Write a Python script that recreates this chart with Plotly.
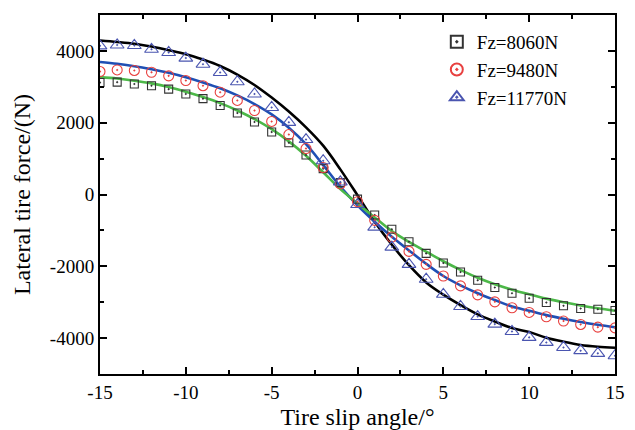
import plotly.graph_objects as go

# slip angle (deg) for the measured points and fitted curves
slip = list(range(-15, 16))

# measured lateral force (N)
fy_8060 = [3120, 3130, 3080, 3030, 2935, 2800, 2670, 2480, 2270, 2020, 1740, 1440, 1100, 720, 330,
           -130, -570, -970, -1315, -1640, -1910, -2160, -2390, -2590, -2750, -2890, -3010, -3100,
           -3175, -3195, -3230]
fy_9480 = [3425, 3470, 3455, 3405, 3305, 3175, 3030, 2850, 2620, 2340, 2035, 1670, 1280, 750, 300,
           -200, -720, -1185, -1585, -1945, -2270, -2545, -2795, -2990, -3155, -3285, -3405, -3525,
           -3620, -3695, -3715]
fy_11770 = [4140, 4165, 4150, 4045, 3955, 3800, 3630, 3400, 3140, 2800, 2425, 2010, 1530, 940, 350,
            -280, -910, -1465, -1945, -2360, -2780, -3120, -3400, -3610, -3815, -3980, -4120, -4260,
            -4350, -4425, -4490]

# fitted curves (N)
fit_8060 = [3270, 3230, 3170, 3095, 2995, 2865, 2715, 2545, 2340, 2100, 1820, 1480, 1080, 620, 150,
            -250, -640, -1020, -1320, -1590, -1860, -2100, -2320, -2500, -2650, -2780, -2900, -3000,
            -3090, -3170, -3240]
fit_9480 = [3690, 3640, 3575, 3490, 3390, 3265, 3120, 2960, 2760, 2520, 2230, 1860, 1400, 820, 220,
            -300, -760, -1180, -1560, -1930, -2270, -2530, -2750, -2940, -3120, -3240, -3360, -3460,
            -3550, -3630, -3700]
fit_11770 = [4290, 4250, 4200, 4120, 4020, 3910, 3760, 3580, 3340, 3050, 2700, 2310, 1870, 1360, 700,
             -20, -760, -1400, -1970, -2450, -2790, -3080, -3340, -3540, -3720, -3830, -3990, -4100,
             -4190, -4240, -4270]

x_ticks = [-15, -10, -5, 0, 5, 10, 15]
x_ticktext = ["-15", "-10", "-5", "0", "5", "10", "15"]
y_ticks = [-4000, -2000, 0, 2000, 4000]
y_ticktext = ["-4000", "-2000", "0", "2000", "4000"]

FONT = "Liberation Serif"

fig = go.Figure()

# fitted lines
for fit, color in [(fit_11770, "#000000"), (fit_9480, "#1f4fb4"), (fit_8060, "#4cb848")]:
    fig.add_trace(go.Scatter(x=slip, y=fit, mode="lines", line=dict(color=color, width=2.6, shape="spline"),
                             showlegend=False, hoverinfo="skip"))

# measured points
fig.add_trace(go.Scatter(x=slip, y=fy_8060, mode="markers", name="Fz=8060N",
                         marker=dict(symbol="square-open-dot", size=8, color="#333333", line=dict(width=1.1))))
fig.add_trace(go.Scatter(x=slip, y=fy_9480, mode="markers", name="Fz=9480N",
                         marker=dict(symbol="circle-open-dot", size=10, color="#e8403f", line=dict(width=1.1))))
fig.add_trace(go.Scatter(x=slip, y=fy_11770, mode="markers", name="Fz=11770N",
                         marker=dict(symbol="triangle-up-open-dot", size=12, color="#4a55b0", line=dict(width=1.1))))

axis_common = dict(
    showline=True, linecolor="black", linewidth=2, mirror="ticks",
    ticks="inside", ticklen=7, tickwidth=2, tickcolor="black",
    showgrid=False, zeroline=False, automargin=False,
    tickfont=dict(family=FONT, size=19, color="black"),
)

fig.update_xaxes(
    range=[-15, 15], tickmode="array", tickvals=x_ticks, ticktext=x_ticktext,
    minor=dict(ticks="inside", ticklen=4, tickwidth=2, tickcolor="black",
               tickvals=[-12.5, -7.5, -2.5, 2.5, 7.5, 12.5]),
    title=dict(text="Tire slip angle/°", font=dict(family=FONT, size=24, color="black"), standoff=7),
    **axis_common,
)
fig.update_yaxes(
    range=[-5000, 5000], tickmode="array", tickvals=y_ticks, ticktext=y_ticktext,
    minor=dict(ticks="inside", ticklen=4, tickwidth=2, tickcolor="black",
               tickvals=[-3000, -1000, 1000, 3000]),
    title=dict(text="Lateral tire force/(N)", font=dict(family=FONT, size=24, color="black"), standoff=12),
    **axis_common,
)

# page body adds an 8px offset, so the figure is sized a bit smaller than the window
fig.update_layout(
    width=627, height=422,
    margin=dict(l=92, r=20, t=7, b=56),
    plot_bgcolor="white", paper_bgcolor="white",
    font=dict(family=FONT, color="black"),
    legend=dict(x=0.654, y=0.978, xanchor="left", yanchor="top", bgcolor="rgba(0,0,0,0)",
                font=dict(family=FONT, size=19, color="black"), tracegroupgap=0, itemsizing="constant"),
)

fig.write_html("out.html")
